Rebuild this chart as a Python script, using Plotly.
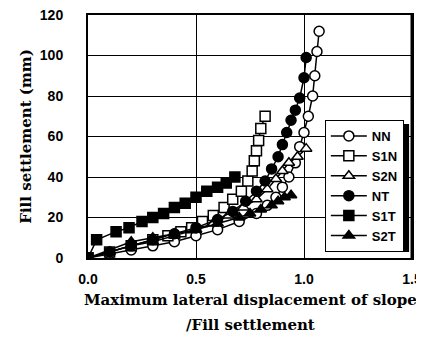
import plotly.graph_objects as go

# Data (x: max lateral displacement / fill settlement, y: fill settlement mm)
nn_x = [0, 0.1, 0.2, 0.3, 0.4, 0.5, 0.6, 0.7, 0.78, 0.83, 0.87, 0.9, 0.93, 0.96, 0.98, 1.0, 1.02, 1.04, 1.05, 1.06, 1.07]
nn_y = [0, 2, 4, 6, 8, 11, 14, 18, 22, 26, 30, 35, 40, 47, 55, 62, 70, 80, 90, 102, 112]

s1n_x = [0, 0.1, 0.2, 0.3, 0.37, 0.43, 0.48, 0.53, 0.58, 0.63, 0.67, 0.71, 0.74, 0.76, 0.77, 0.78, 0.79, 0.80, 0.82]
s1n_y = [0, 3, 6, 9, 11, 13, 15, 18, 21, 25, 29, 33, 38, 43, 48, 53, 58, 64, 70]

s2n_x = [0, 0.1, 0.2, 0.3, 0.4, 0.5, 0.58, 0.65, 0.72, 0.78, 0.83, 0.87, 0.9, 0.93, 0.97, 1.01]
s2n_y = [0, 3, 6, 8, 11, 14, 17, 21, 25, 29, 34, 39, 43, 47, 50, 54]

nt_x = [0, 0.1, 0.2, 0.3, 0.4, 0.5, 0.6, 0.67, 0.73, 0.78, 0.82, 0.85, 0.88, 0.9, 0.92, 0.94, 0.96, 0.98, 1.0, 1.01]
nt_y = [0, 3, 6, 9, 12, 15, 19, 23, 28, 33, 38, 44, 50, 56, 62, 68, 73, 79, 89, 99]

s1t_x = [0, 0.04, 0.13, 0.19, 0.25, 0.30, 0.35, 0.40, 0.45, 0.50, 0.55, 0.60, 0.64, 0.68]
s1t_y = [0, 9, 13, 15, 18, 20, 22, 25, 27, 30, 33, 35, 37, 40]

s2t_x = [0, 0.2, 0.3, 0.4, 0.5, 0.6, 0.7, 0.75, 0.8, 0.85, 0.88, 0.91, 0.94]
s2t_y = [0, 8, 10, 12, 14, 17, 20, 22, 24, 26, 28, 30, 31]

x_ticks = [0, 0.5, 1.0, 1.5]
x_tick_text = ["0.0", "0.5", "1.0", "1.5"]
y_ticks = [0, 20, 40, 60, 80, 100, 120]
y_tick_text = ["0", "20", "40", "60", "80", "100", "120"]

x_title_1 = "Maximum lateral displacement of slope"
x_title_2 = "/Fill settlement"
y_title = "Fill settlement (mm)"

series = [
    ("NN", nn_x, nn_y, "circle", "white"),
    ("S1N", s1n_x, s1n_y, "square", "white"),
    ("S2N", s2n_x, s2n_y, "triangle-up", "white"),
    ("NT", nt_x, nt_y, "circle", "black"),
    ("S1T", s1t_x, s1t_y, "square", "black"),
    ("S2T", s2t_x, s2t_y, "triangle-up", "black"),
]

fig = go.Figure()
for name, xs, ys, sym, fill in series:
    fig.add_trace(go.Scatter(
        x=xs, y=ys, name=name, mode="lines+markers",
        line=dict(color="black", width=1.5),
        marker=dict(symbol=sym, size=10, color=fill, line=dict(color="black", width=1.5)),
    ))

# legend shadow
fig.add_shape(type="rect", xref="paper", yref="paper",
              x0=0.744, x1=0.991, y0=0.025, y1=0.551,
              fillcolor="black", line=dict(width=0), layer="above")
# thick right border
fig.add_shape(type="line", xref="paper", yref="paper", x0=1, x1=1, y0=0, y1=1,
              line=dict(color="black", width=3))

title_font = dict(family="DejaVu Serif", size=15, color="black", weight="bold")
fig.add_annotation(text=x_title_1, xref="paper", yref="paper", x=0.5, y=-0.171,
                   xanchor="center", yanchor="middle", showarrow=False, font=title_font)
fig.add_annotation(text=x_title_2, xref="paper", yref="paper", x=0.5, y=-0.274,
                   xanchor="center", yanchor="middle", showarrow=False, font=title_font)

fig.update_layout(
    width=416, height=341,
    margin=dict(l=80, r=12, t=7, b=91, autoexpand=False),
    paper_bgcolor="white", plot_bgcolor="white",
    showlegend=True,
    legend=dict(x=0.731, y=0.568, xanchor="left", yanchor="top",
                bgcolor="white", bordercolor="black", borderwidth=1,
                font=dict(family="Liberation Sans", size=13, color="black", weight="bold"),
                tracegroupgap=0, itemwidth=36),
    xaxis=dict(range=[0, 1.5], tickvals=x_ticks, ticktext=x_tick_text,
               showgrid=True, gridcolor="black", gridwidth=1,
               showline=True, linecolor="black", linewidth=1.5, mirror=True,
               zeroline=False, ticks="", ticklabelstandoff=7, automargin=False,
               ticklabeloverflow="allow",
               tickfont=dict(family="Liberation Sans", size=14, color="black", weight="bold")),
    yaxis=dict(range=[0, 120], tickvals=y_ticks, ticktext=y_tick_text,
               showgrid=True, gridcolor="black", gridwidth=1,
               showline=True, linecolor="black", linewidth=2, mirror=True,
               zeroline=False, ticks="", ticklabelstandoff=20, automargin=False,
               ticklabeloverflow="allow",
               tickfont=dict(family="Liberation Sans", size=14, color="black", weight="bold"),
               title=dict(text=y_title, font=dict(family="DejaVu Serif", size=15, color="black", weight="bold"),
                          standoff=5)),
)

fig.write_html("out.html")
